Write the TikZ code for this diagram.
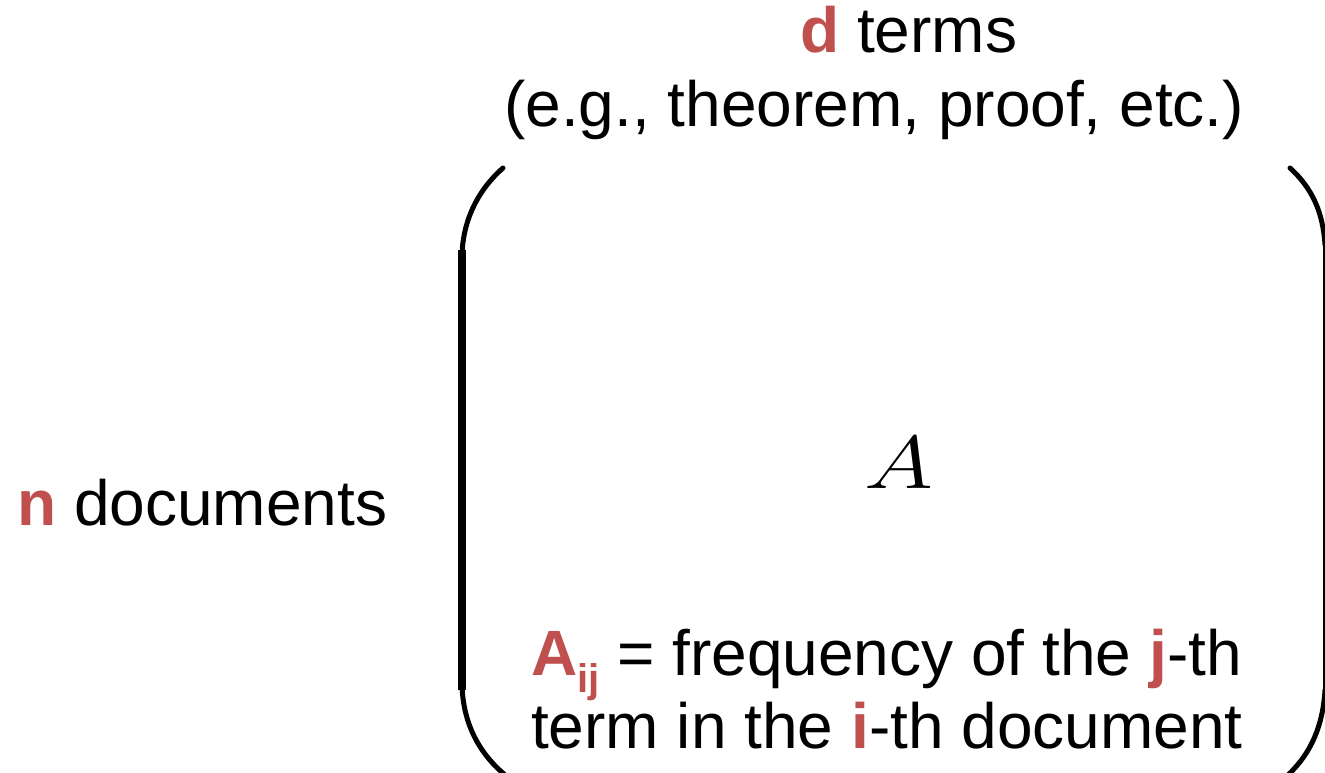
\RequirePackage{fix-cm}
\documentclass[tikz,border=0pt]{standalone}
\usepackage{fontspec}
\setmainfont{Liberation Sans}
\usepackage{xcolor}
\usepackage{graphicx}
\usepackage{tikz}
\usetikzlibrary{positioning}
\definecolor{termred}{RGB}{192,80,77}
\newcommand{\hl}[1]{\textcolor{termred}{\textbf{#1}}}
\tikzset{
  % --- labels ----------------------------------------------------------------
  lbl/.style={inner sep=0pt,anchor=base west,
              font=\fontsize{64}{74}\selectfont},
  mat/.style={inner sep=0pt,anchor=base,font=\fontsize{75}{75}\selectfont},
  % --- matrix brackets -------------------------------------------------------
  brk/.style={line width=7.5pt},
  brkend/.style={line width=5pt,line cap=round},
}
\begin{document}
\begin{tikzpicture}[x=1pt, y=-1pt]
  \useasboundingbox (0,0) rectangle (1325,773);
  \clip (0,0) rectangle (1325,773);

  \node[lbl] (dterms) at (800,53)  {\hl{d} terms};
  \node[lbl] (eg)     at (504,127) {(e.g., theorem, proof, etc.)};
  \node[lbl] (ndocs)  at (17,525)  {\hl{n} documents};
  \node[mat] (A)      at (899,488) {\scalebox{1.25}[1]{$A$}};
  \node[lbl] (aij)    at (531,675) {\hl{A}\raisebox{-0.28em}{\fontsize{40}{40}\selectfont\hl{ij}} = frequency of the \hl{j}-th};
  \node[lbl] (tline)  at (531,748) {term in the \hl{i}-th document};

  % left bracket
  \draw[brkend] (503,168) .. controls (478,190) and (463,220) .. (462,255);
  \draw[brk] (462,250) -- (462,690);
  \draw[brkend] (462,685) .. controls (463,722) and (478,752) .. (504,774);
  % right bracket
  \draw[brkend] (1290,168) .. controls (1312,188) and (1323,212) .. (1325,245);
  \draw[brk] (1327,240) -- (1327,695);
  \draw[brkend] (1325,690) .. controls (1323,724) and (1312,752) .. (1289,774);
\end{tikzpicture}
\end{document}
